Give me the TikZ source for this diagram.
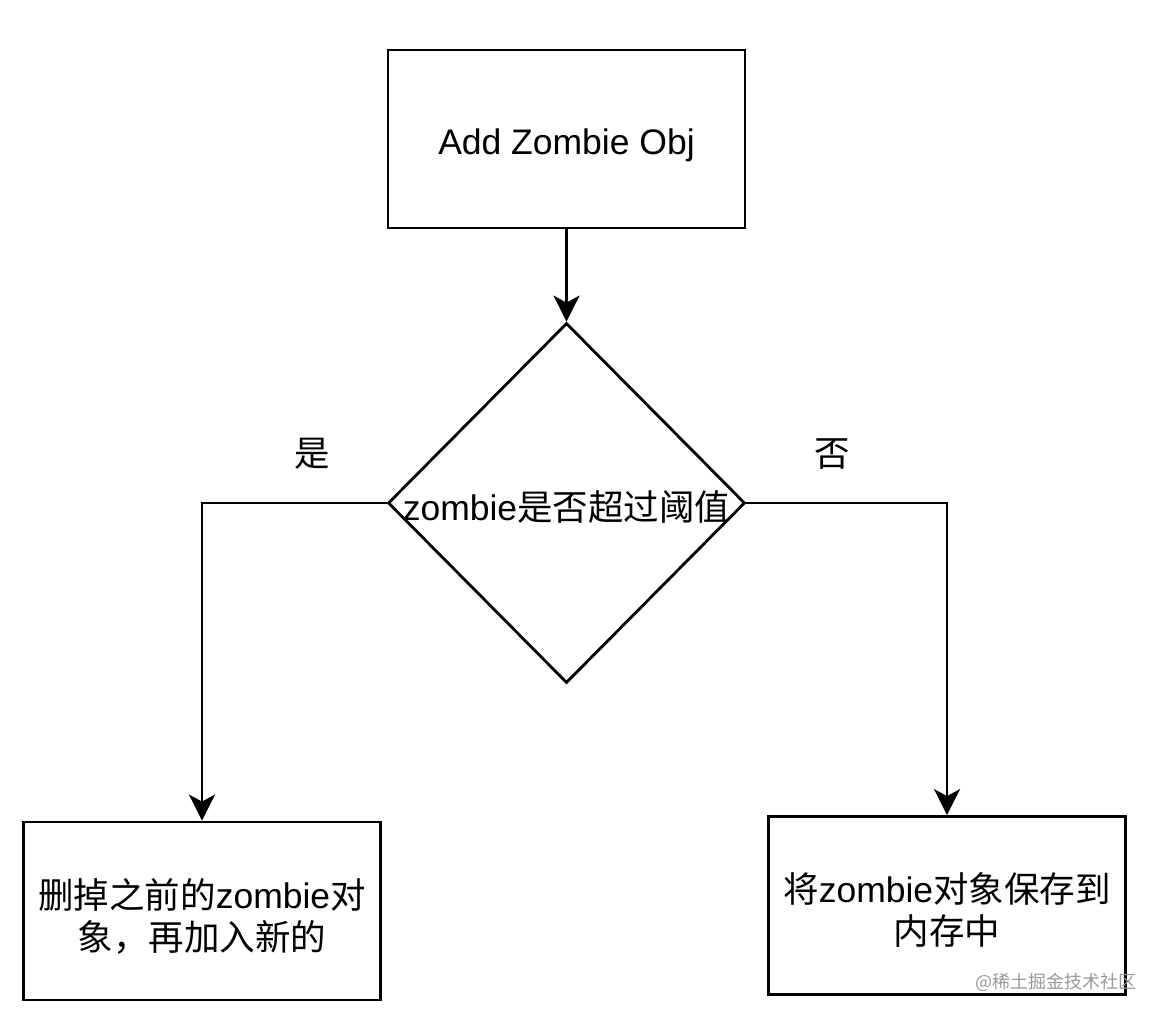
\documentclass[tikz,border=0pt]{standalone}
\usepackage{fontspec}
\setmainfont{Liberation Sans}
\newfontfamily\cjk{Noto Sans CJK SC}
\usetikzlibrary{shapes.geometric,arrows.meta}
\begin{document}
\begin{tikzpicture}[x=1pt,y=-1pt,
  box/.style={draw,line width=2.8pt,rectangle,minimum width=357pt,minimum height=178pt,inner sep=0pt},
  dec/.style={draw,line width=2.8pt,diamond,minimum width=357pt,minimum height=360pt,inner sep=0pt},
  lbl/.style={inner sep=0pt,align=center,font=\fontsize{35.5}{42}\selectfont},
  arr/.style={line width=2.8pt,-{Stealth[length=26pt,width=26pt,inset=7pt]}},
  wm/.style={text=black!40,font=\cjk\fontsize{18}{18}\selectfont}
]
\useasboundingbox (0,0) rectangle (1162,1018);
\node[box] (top) at (566.5,139) {};
\node[lbl] (topt) at ([yshift=-6pt]top.center) {Add Zombie Obj};
\node[dec] (d) at (566.5,503) {};
\node[lbl] (dt) at (566.5,507) {zombie{\cjk 是否超过阈值}};
\node[box] (lb) at (202,911) {};
\node[lbl] (lbt) at ([yshift=-5pt]lb.center) {{\cjk 删掉之前的}zombie{\cjk 对}\\{\cjk 象，再加入新的}};
\node[box] (rb) at (947,905.5) {};
\node[lbl] (rbt) at ([yshift=-4pt]rb.center) {{\cjk 将}zombie{\cjk 对象保存到}\\{\cjk 内存中}};
\node[lbl] (yes) at (312,454) {\cjk 是};
\node[lbl] (no) at (832,454) {\cjk 否};
\node[wm] (w) at (1056,982) {@稀土掘金技术社区};
\draw[arr] (top.south) -- (d.north);
\draw[arr] (d.west) -| (lb.north);
\draw[arr] (d.east) -| (rb.north);
\end{tikzpicture}
\end{document}
